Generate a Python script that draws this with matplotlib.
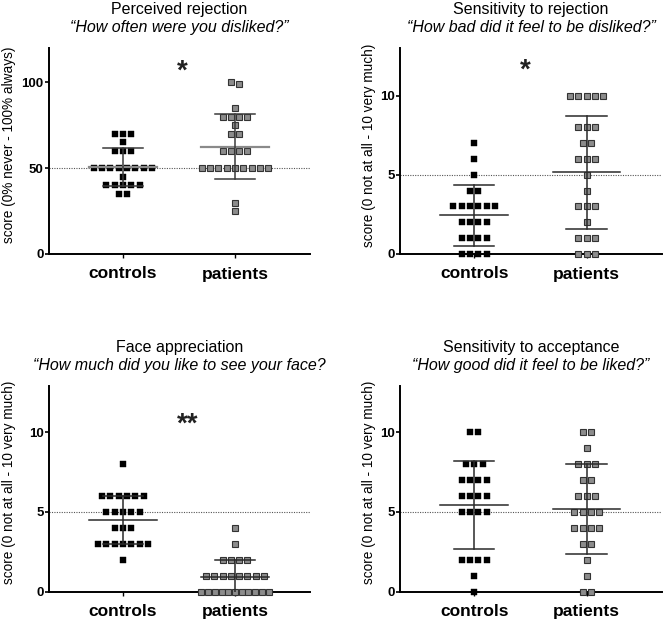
import numpy as np
import matplotlib
matplotlib.use("Agg")
import matplotlib.pyplot as plt

plt.rcParams['font.family'] = ['Liberation Sans', 'DejaVu Sans']

# ---------------- data ----------------
groups = ['controls', 'patients']

titles = ['Perceived rejection', 'Sensitivity to rejection',
          'Face appreciation', 'Sensitivity to acceptance']
subtitles = ['\u201cHow often were you disliked?\u201d',
             '\u201cHow bad did it feel to be disliked?\u201d',
             '\u201cHow much did you like to see your face?',
             '\u201cHow good did it feel to be liked?\u201d']
ylabels = ['score (0% never - 100% always)',
           'score (0 not at all - 10 very much)',
           'score (0 not at all - 10 very much)',
           'score (0 not at all - 10 very much)']
yticks_percent = [0, 50, 100]
yticks_ten = [0, 5, 10]
ref_values = [50, 5, 5, 5]
significance = ['*', '*', '**', '']

rejection_controls = [70, 70, 70, 65, 60, 60, 60, 50, 50, 50, 50, 50, 50, 50, 50,
                      45, 40, 40, 40, 40, 40, 35, 35]
rejection_patients = [100, 99, 85, 80, 80, 80, 80, 75, 70, 70, 60, 60, 60, 60,
                      50, 50, 50, 50, 50, 50, 50, 50, 50, 30, 25]

sens_rej_controls = [7, 6, 5, 4, 4, 3, 3, 3, 3, 3, 3, 2, 2, 2, 2, 1, 1, 1, 1,
                     0, 0, 0, 0]
sens_rej_patients = [10, 10, 10, 10, 10, 8, 8, 8, 7, 7, 6, 6, 6, 5, 4, 3, 3, 3,
                     2, 1, 1, 1, 0, 0, 0]

face_controls = [8, 6, 6, 6, 6, 6, 6, 5, 5, 5, 5, 5, 4, 4, 4, 3, 3, 3, 3, 3, 3,
                 3, 2]
face_patients = [4, 3, 2, 2, 2, 2, 1, 1, 1, 1, 1, 1, 1, 1, 0, 0, 0, 0, 0, 0, 0,
                 0, 0, 0, 0]

accept_controls = [10, 10, 8, 8, 8, 7, 7, 7, 7, 6, 6, 6, 6, 5, 5, 5, 5, 2, 2, 2,
                   2, 1, 0]
accept_patients = [10, 10, 9, 8, 8, 8, 7, 7, 6, 6, 6, 5, 5, 5, 5, 4, 4, 4, 4, 3,
                   3, 2, 1, 0, 0]

panels = [(rejection_controls, rejection_patients),
          (sens_rej_controls, sens_rej_patients),
          (face_controls, face_patients),
          (accept_controls, accept_patients)]

# ---------------- layout helpers ----------------
W, H = 664, 621
fig = plt.figure(figsize=(W / 100, H / 100), dpi=100)

axes_px = [(49, 48, 310, 254), (400, 48, 662, 254),
           (49, 386, 310, 591.7), (400, 386, 662, 591.7)]
ylims = [(0, 120), (0, 13), (0, 12.9), (0, 12.9)]
xlim = (-0.66, 1.67)
step = 0.074        # horizontal step between neighbouring points (data units)
max_span = 0.6      # widest row (centre to centre)


def swarm_offsets(vals, ax_height_px, ylim):
    """Rows of equal (or visually touching) values, centred around 0."""
    vals = np.asarray(vals, dtype=float)
    px_per_unit = ax_height_px / (ylim[1] - ylim[0])
    order = np.argsort(-vals, kind='stable')
    rows, cur = [], [order[0]]
    for i in order[1:]:
        if abs(vals[cur[0]] - vals[i]) * px_per_unit < 5:
            cur.append(i)
        else:
            rows.append(cur)
            cur = [i]
    rows.append(cur)
    offs = np.zeros(len(vals))
    for r in rows:
        n = len(r)
        s = step
        if (n - 1) * s > max_span:
            s = max_span / (n - 1)
        for k, idx in enumerate(r):
            offs[idx] = (k - (n - 1) / 2) * s
    return offs


star_pos = [(0.53, 106.5), (0.45, 11.55), (0.58, 10.5), None]

for p, (ctrl, pat) in enumerate(panels):
    l, t, r, b = axes_px[p]
    ax = fig.add_axes([l / W, 1 - b / H, (r - l) / W, (b - t) / H])
    ax.set_xlim(*xlim)
    ax.set_ylim(*ylims[p])
    hpx = b - t

    ax.axhline(ref_values[p], color='#555555', lw=0.8, ls=(0, (1, 1.2)), zorder=1)

    if p == 0:
        mean_col, mean_lw, err_col = '#8a8a8a', 1.6, '#3a3a3a'
    else:
        mean_col, mean_lw, err_col = '#2a2a2a', 1.1, '#2a2a2a'

    for gi, vals in enumerate((ctrl, pat)):
        offs = swarm_offsets(vals, hpx, ylims[p])
        x = gi + offs
        if gi == 0:
            ax.plot(x, vals, ls='none', marker='s', ms=4.7, mfc='black',
                    mec='black', mew=0.3, zorder=3, clip_on=False)
        else:
            ax.plot(x, vals, ls='none', marker='s', ms=4.9, mfc='#8c8c8c',
                    mec='#333333', mew=0.8, zorder=3, clip_on=False)
        m = np.mean(vals)
        sd = np.std(vals, ddof=1)
        ax.plot([gi - 0.3, gi + 0.3], [m, m], color=mean_col, lw=mean_lw, zorder=4)
        ax.plot([gi, gi], [m - sd, m + sd], color=err_col, lw=1.1, zorder=4)
        for yy in (m - sd, m + sd):
            ax.plot([gi - 0.18, gi + 0.18], [yy, yy], color=err_col, lw=1.1,
                    zorder=4)

    ax.spines['top'].set_visible(False)
    ax.spines['right'].set_visible(False)
    for s in ('left', 'bottom'):
        ax.spines[s].set_linewidth(1.4)
        ax.spines[s].set_zorder(2)
    ax.set_xticks([0, 1])
    ax.set_xticklabels(groups, fontsize=12.5, fontweight='bold')
    ax.set_yticks(yticks_percent if p == 0 else yticks_ten)
    for lab in ax.get_yticklabels():
        lab.set_fontweight('bold')
    ax.tick_params(axis='y', length=3, width=1.2, pad=1, labelsize=9.5)
    ax.tick_params(axis='x', length=3, width=1.0, pad=6)

    ax.set_ylabel(ylabels[p], fontsize=9.8)
    ax.yaxis.set_label_coords(-0.126 if p % 2 == 0 else -0.092, 0.53)

    ax.text(0.5, 1.185, titles[p], transform=ax.transAxes, ha='center',
            va='center', fontsize=11.5)
    ax.text(0.5, 1.1, subtitles[p], transform=ax.transAxes, ha='center',
            va='center', fontsize=11.5, style='italic')

    if star_pos[p] is not None:
        ax.text(star_pos[p][0], star_pos[p][1], significance[p], ha='center',
                va='center', fontsize=20, fontweight='bold', color='#222222')

fig.savefig('out.png', dpi=100)
